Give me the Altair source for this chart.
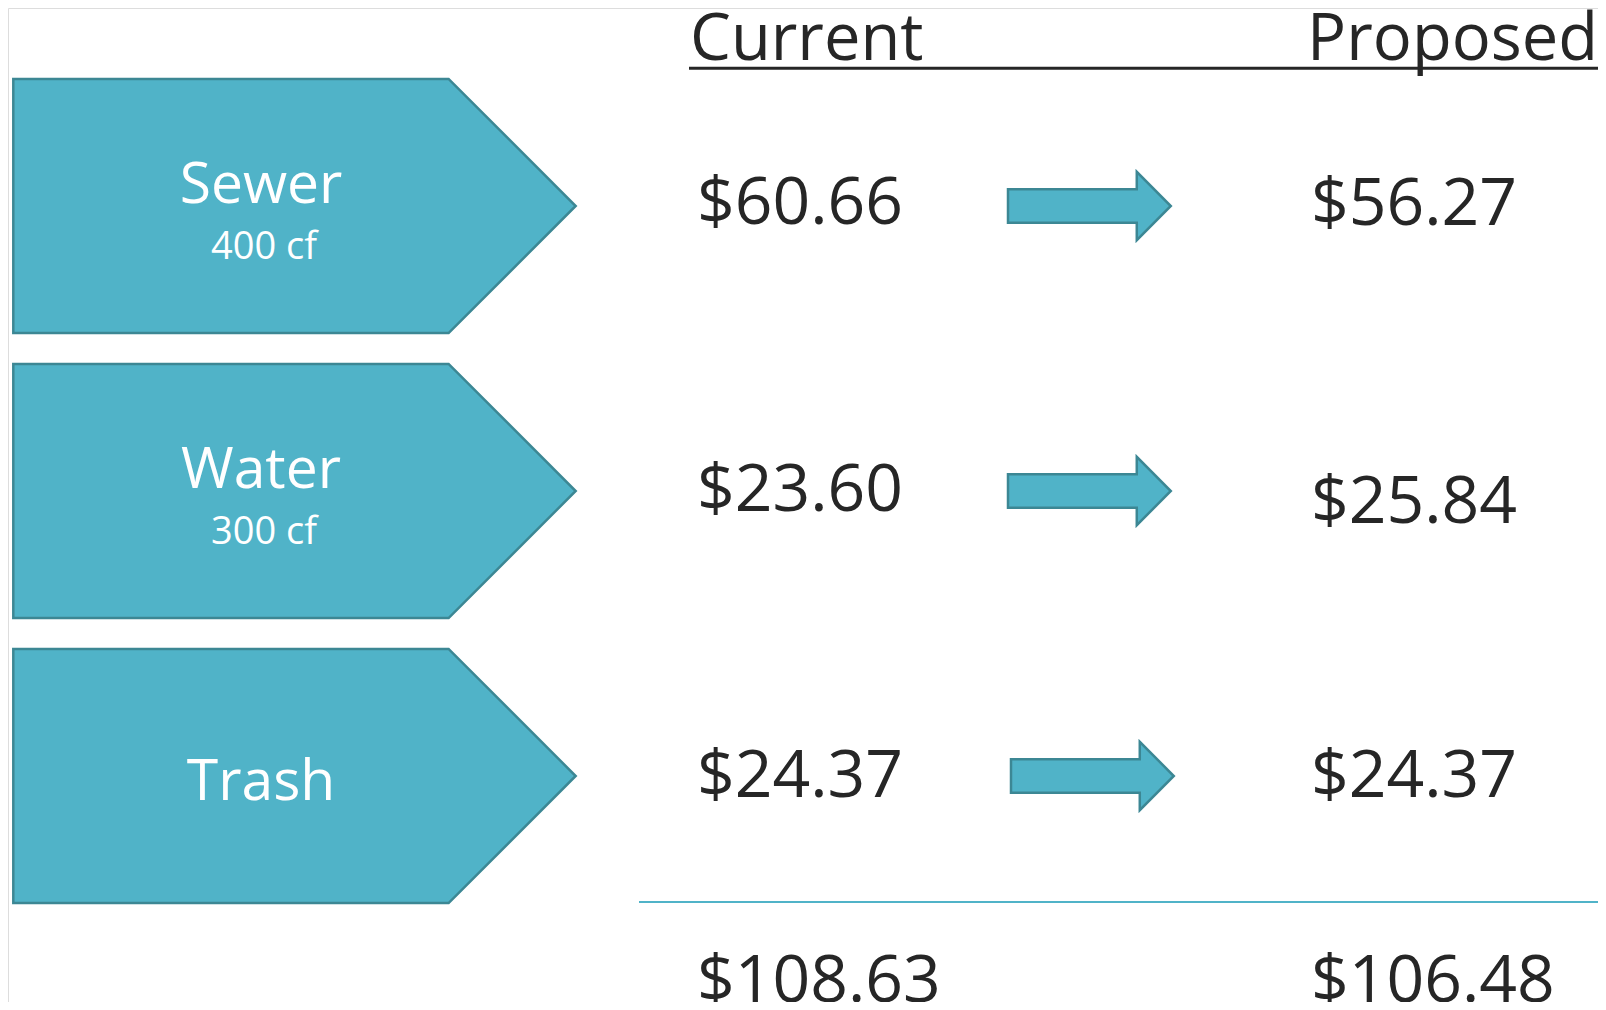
import altair as alt
import pandas as pd

# ---- data ----
categories = ["Sewer", "Water", "Trash"]
usage = ["400 cf", "300 cf", ""]
current = [60.66, 23.60, 24.37]
proposed = [56.27, 25.84, 24.37]
totals = [108.63, 106.48]
headers = ["Current", "Proposed"]

# ---- layout constants (chart pixels) ----
W, H = 1590, 994
ROW_PX = 285.0            # distance between row centres
Y0 = 198.0                # first row centre
FONT = "Open Sans"
TEAL = "#50b3c8"
TEAL_DARK = "#3c8794"
INK = "#262626"
VAL_SIZE = 66

PENT_CX, PENT_HW = 286.5, 281.2
PENT_PATH = "M -1 -0.4517 L 0.548 -0.4517 L 1 0 L 0.548 0.4517 L -1 0.4517 Z"
ARROW_CX, ARROW_HW = 1081.4, 81.4
ARROW_PATH = ("M -1 -0.207 L 0.582 -0.207 L 0.582 -0.42 L 1 0 "
              "L 0.582 0.42 L 0.582 0.207 L -1 0.207 Z")
ARROW_DX = [0, 0, 3]

LABEL_X, SUB_X = 253, 256
LABEL_DY = [-3, -3, 24]
SUB_DY = 53
CUR_X, PROP_X = 689, 1303
CUR_DY = [18, 20, 21]
PROP_DY = [19, 32, 21]
HEAD_Y = (52 - Y0) / ROW_PX
HEAD_X = [682, 1590]
ULINE_Y = (60.3 - Y0) / ROW_PX
ULINE_X = [681, 1595]
TEAL_Y = (894 - Y0) / ROW_PX
TEAL_X = [631, 1600]
TOTAL_Y = (994 - Y0) / ROW_PX

xs = alt.Scale(domain=[0, W], range=[0, W], nice=False, zero=False)
ys = alt.Scale(domain=[0, 2], range=[Y0, Y0 + 2 * ROW_PX], nice=False, zero=False)

rows = pd.DataFrame({
    "row": [0, 1, 2],
    "category": categories,
    "usage": usage,
    "current": current,
    "proposed": proposed,
})
rows["pent_x"] = PENT_CX
rows["arrow_x"] = [ARROW_CX + d for d in ARROW_DX]
rows["label_x"] = LABEL_X
rows["label_y"] = [r + d / ROW_PX for r, d in zip(rows["row"], LABEL_DY)]
rows["sub_x"] = SUB_X
rows["sub_y"] = rows["row"] + SUB_DY / ROW_PX
rows["cur_x"] = CUR_X
rows["cur_y"] = [r + d / ROW_PX for r, d in zip(rows["row"], CUR_DY)]
rows["prop_x"] = PROP_X
rows["prop_y"] = [r + d / ROW_PX for r, d in zip(rows["row"], PROP_DY)]

base = alt.Chart(rows)

pentagons = base.mark_point(
    shape=PENT_PATH, filled=True, fill=TEAL, stroke=TEAL_DARK, strokeWidth=2.5,
    opacity=1, fillOpacity=1, strokeOpacity=1,
).encode(
    x=alt.X("pent_x:Q", scale=xs, axis=None),
    y=alt.Y("row:Q", scale=ys, axis=None),
    size=alt.value((2 * PENT_HW) ** 2),
)

arrows = base.mark_point(
    shape=ARROW_PATH, filled=True, fill=TEAL, stroke=TEAL_DARK, strokeWidth=2.5,
    opacity=1, fillOpacity=1, strokeOpacity=1,
).encode(
    x=alt.X("arrow_x:Q", scale=xs, axis=None),
    y=alt.Y("row:Q", scale=ys, axis=None),
    size=alt.value((2 * ARROW_HW) ** 2),
)

labels = base.mark_text(
    font=FONT, fontSize=57, color="white", align="center", baseline="alphabetic"
).encode(
    x=alt.X("label_x:Q", scale=xs, axis=None),
    y=alt.Y("label_y:Q", scale=ys, axis=None),
    text="category:N",
)

subs = base.mark_text(
    font=FONT, fontSize=38, color="white", align="center", baseline="alphabetic"
).encode(
    x=alt.X("sub_x:Q", scale=xs, axis=None),
    y=alt.Y("sub_y:Q", scale=ys, axis=None),
    text="usage:N",
)

cur_text = base.mark_text(
    font=FONT, fontSize=VAL_SIZE, color=INK, align="left", baseline="alphabetic"
).encode(
    x=alt.X("cur_x:Q", scale=xs, axis=None),
    y=alt.Y("cur_y:Q", scale=ys, axis=None),
    text=alt.Text("current:Q", format="$.2f"),
)

prop_text = base.mark_text(
    font=FONT, fontSize=VAL_SIZE, color=INK, align="left", baseline="alphabetic"
).encode(
    x=alt.X("prop_x:Q", scale=xs, axis=None),
    y=alt.Y("prop_y:Q", scale=ys, axis=None),
    text=alt.Text("proposed:Q", format="$.2f"),
)

head_df = pd.DataFrame({"label": headers, "x": HEAD_X, "y": [HEAD_Y, HEAD_Y]})
head_cur = alt.Chart(head_df.iloc[[0]]).mark_text(
    font=FONT, fontSize=65, color=INK, align="left", baseline="alphabetic"
).encode(
    x=alt.X("x:Q", scale=xs, axis=None),
    y=alt.Y("y:Q", scale=ys, axis=None),
    text="label:N",
)
head_prop = alt.Chart(head_df.iloc[[1]]).mark_text(
    font=FONT, fontSize=65, color=INK, align="right", baseline="alphabetic"
).encode(
    x=alt.X("x:Q", scale=xs, axis=None),
    y=alt.Y("y:Q", scale=ys, axis=None),
    text="label:N",
)

uline = alt.Chart(pd.DataFrame({"x": [ULINE_X[0]], "x2": [ULINE_X[1]], "y": [ULINE_Y]})).mark_rule(
    color=INK, strokeWidth=3
).encode(
    x=alt.X("x:Q", scale=xs, axis=None), x2="x2:Q",
    y=alt.Y("y:Q", scale=ys, axis=None),
)

tline = alt.Chart(pd.DataFrame({"x": [TEAL_X[0]], "x2": [TEAL_X[1]], "y": [TEAL_Y]})).mark_rule(
    color=TEAL, strokeWidth=2
).encode(
    x=alt.X("x:Q", scale=xs, axis=None), x2="x2:Q",
    y=alt.Y("y:Q", scale=ys, axis=None),
)

tot_df = pd.DataFrame({"value": totals, "x": [CUR_X, PROP_X], "y": [TOTAL_Y, TOTAL_Y]})
tot_text = alt.Chart(tot_df).mark_text(
    font=FONT, fontSize=VAL_SIZE, color=INK, align="left", baseline="alphabetic"
).encode(
    x=alt.X("x:Q", scale=xs, axis=None),
    y=alt.Y("y:Q", scale=ys, axis=None),
    text=alt.Text("value:Q", format="$.2f"),
)

chart = alt.layer(
    pentagons, arrows, labels, subs, cur_text, prop_text,
    head_cur, head_prop, uline, tline, tot_text,
).properties(
    width=W, height=H, padding=0,
    autosize=alt.AutoSizeParams(type="none"),
).configure_view(stroke=None).configure(background="transparent")

chart.save("out.html", embed_options={"renderer": "svg", "actions": False})
